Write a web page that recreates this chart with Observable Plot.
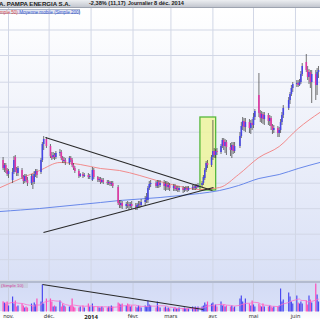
<!DOCTYPE html>
<html><head><meta charset="utf-8">
<script src="https://cdn.jsdelivr.net/npm/d3@7"></script>
<script src="https://cdn.jsdelivr.net/npm/@observablehq/plot@0.6"></script>
<style>
body{margin:0;background:#fff;font-family:"Liberation Sans",Arial,sans-serif;}
#wrap{position:relative;width:320px;height:320px;overflow:hidden;background:#fff;}
.abs{position:absolute;}
#title{left:0;top:0;width:320px;height:8px;background:linear-gradient(#eceef1,#c3c7cf);border-bottom:1px solid #9ea4b0;box-sizing:border-box;}
#title span{position:absolute;top:0;font-weight:bold;font-size:5.6px;line-height:7.5px;color:#1b1b1b;white-space:nowrap;}
#legend{left:-1px;top:8.5px;height:5.5px;width:81px;background:#e3e6f0;border:0.5px solid #aeb6ca;box-sizing:border-box;font-size:4.6px;line-height:5px;white-space:nowrap;}
#vlabel{left:0;top:282.5px;height:5px;width:27px;background:#c9d0e2;font-size:4.4px;line-height:5px;color:#d2409e;white-space:nowrap;padding-left:1px;}
#sep{left:0;top:280px;width:320px;height:2.5px;background:#b3bbcf;border-top:0.5px solid #d6dbe7;box-sizing:border-box;}
</style></head>
<body>
<div id="wrap">
  <div id="main" class="abs" style="left:0;top:8px"></div>
  <div id="vol" class="abs" style="left:0;top:282px"></div>
  <div id="sep" class="abs"></div>
  <div id="title" class="abs">
    <span style="left:-1px;font-size:6.1px">A. PAMPA ENERGIA S.A.</span>
    <span style="left:89px">-2,38% (11,17)</span>
    <span style="left:128px;font-size:5.1px">Journalier</span>
    <span style="left:154px">8 déc. 2014</span>
  </div>
  <div id="legend" class="abs"><span style="color:#e04848">mple 50)</span> <span style="color:#3356d6">Moyenne mobile (Simple 200)</span></div>
  <div id="vlabel" class="abs">(Simple 10)</div>
</div>
<script>
// ---- data (price units, daily trading sessions) ----
const START = "2013-10-28", END = "2014-06-19";
const HOLIDAYS = ["2013-11-28","2013-12-25","2014-01-01","2014-01-20","2014-02-17","2014-04-18","2014-05-26"];

const OPEN = [
 14.0,13.2,13.5,13.0,12.6, 12.0,12.8,14.3,13.0,12.7, 13.0,12.3,11.9,12.4,12.0, 11.7,12.4,11.8,12.6,12.9,
 12.8,14.0,15.6,16.1, 15.4,14.4,14.3,14.5,14.3, 14.7,14.8,14.2,13.9,14.0, 13.7,14.2,14.0,13.5,13.2,
 12.9,12.4,12.6,12.4, 12.5,12.3,12.0,13.0, 12.3,12.0,12.1,11.8,12.0, 11.8,11.7,11.8,11.6,11.7,
 11.3,9.7,9.5,9.7, 9.4,9.6,9.5,9.4,9.6, 9.4,9.3,9.5,9.6,9.5, 9.8,10.0,10.0,11.2,11.6,
 11.7,11.4,11.8,11.5, 11.7,11.4,11.6,11.3,11.5, 11.2,11.4,11.1,11.2,11.0, 11.2,11.0,11.1,11.2,11.0,
 11.2,11.3,11.2,11.4,11.3, 11.5,11.7,12.2,13.0,13.7, 13.5,14.3,14.9,14.5,14.9, 14.8,15.4,16.0,15.4,15.8,
 15.3,15.0,15.5,14.9, 15.4,16.4,17.4,17.9,17.3, 17.8,17.2,17.7,17.5,18.3, 20.5,18.7,18.2,18.6,18.1,
 18.5,17.9,18.2,17.4,17.0, 17.2,16.7,17.0,17.8,18.5, 19.2,20.0,20.6,21.2, 21.6,21.7,21.5,21.8,22.6,
 23.8,23.0,22.3,22.8,21.8, 22.6,21.5,22.8];
const CLOSE = [
 13.2,13.5,13.0,12.6,12.9, 12.8,14.0,13.0,12.7,13.2, 12.3,11.9,12.4,12.0,11.7, 12.4,11.8,12.6,12.9,12.5,
 14.0,15.6,16.1,15.4, 14.4,14.2,14.5,14.3,14.7, 14.8,14.2,13.9,14.0,13.8, 14.2,14.0,13.5,13.2,12.9,
 12.4,12.6,12.4,12.5, 12.3,12.4,13.0,12.3, 12.0,12.1,11.8,12.0,11.8, 11.7,11.8,11.6,11.7,11.4,
 9.7,9.5,9.7,9.4, 9.6,9.5,9.4,9.6,9.4, 9.3,9.5,9.6,9.5,9.8, 10.0,10.3,11.2,11.6,11.7,
 11.4,11.8,11.5,11.7, 11.4,11.6,11.3,11.5,11.2, 11.4,11.1,11.2,11.0,11.2, 11.0,11.1,11.2,11.0,11.2,
 11.3,11.2,11.4,11.3,11.5, 11.7,12.3,13.0,13.7,13.5, 14.3,14.9,14.5,14.9,14.8, 15.4,16.0,15.4,15.8,15.3,
 15.0,15.5,14.9,15.4, 16.4,17.4,17.9,17.3,17.8, 17.2,17.7,17.5,18.3,18.9, 18.7,18.2,18.6,18.1,18.5,
 17.9,18.2,17.4,17.0,17.2, 16.7,17.0,17.8,18.5,19.2, 20.0,20.6,21.2,21.6, 21.7,21.5,21.8,22.6,23.4,
 23.0,22.3,22.8,21.8,22.6, 21.5,22.8,23.0];
const HIGH = [
 14.3,13.7,13.7,13.2,13.1, 13.2,14.4,14.5,13.3,13.4, 13.2,12.5,12.6,12.6,12.3, 12.6,12.6,12.9,13.1,13.1,
 14.2,15.8,16.4,16.3, 15.6,14.8,14.8,14.7,14.9, 15.1,15.0,14.4,14.3,14.2, 14.4,14.4,14.2,13.7,13.4,
 13.1,12.7,12.8,12.7, 12.7,12.6,13.3,13.2, 12.4,12.3,12.3,12.2,12.2, 12.0,12.0,11.9,11.9,11.9,
 11.5,10.0,10.0,9.9, 9.8,9.9,9.8,9.8,9.9, 9.7,9.7,9.9,9.9,10.1, 10.4,10.7,11.4,11.9,12.0,
 11.9,12.0,12.0,12.0, 12.0,11.9,11.9,11.8,11.7, 11.6,11.6,11.4,11.4,11.4, 11.4,11.3,11.4,11.4,11.4,
 11.5,11.5,11.6,11.6,11.7, 11.9,12.5,13.2,13.9,14.0, 14.5,18.0,15.2,15.1,15.2, 15.6,16.2,16.2,16.1,16.0,
 15.7,15.8,15.8,15.8, 16.8,17.8,18.3,18.2,18.2, 18.1,18.0,18.1,18.7,19.1, 22.7,19.0,18.9,18.8,18.8,
 18.7,18.5,18.4,17.6,17.5, 17.4,17.3,18.1,18.8,19.5, 20.3,20.8,21.5,21.8, 22.0,22.0,22.1,22.9,23.7,
 24.6,23.4,23.1,23.0,23.0, 23.0,23.2,23.4];
const LOW = [
 13.0,12.8,12.7,12.4,12.2, 11.7,12.6,12.8,12.4,12.4, 12.1,11.6,11.7,11.8,11.4, 11.5,11.1,11.6,12.3,12.2,
 12.6,13.8,15.0,15.2, 14.2,14.0,14.1,14.0,14.1, 14.4,14.0,13.7,13.7,13.5, 13.5,13.8,13.3,13.0,12.7,
 12.2,12.3,12.2,12.3, 12.1,12.1,11.9,12.1, 11.8,11.8,11.6,11.7,11.6, 11.5,11.5,11.4,11.4,11.2,
 9.5,9.2,9.2,9.1, 9.1,9.2,9.0,9.2,9.1, 9.0,9.0,9.2,9.2,9.3, 9.5,9.7,9.7,11.0,11.3,
 11.2,11.2,11.2,11.3, 11.0,10.9,11.0,11.0,10.9, 10.9,10.9,10.9,10.8,10.8, 10.7,10.8,10.9,10.8,10.9,
 11.0,11.0,11.0,11.1,11.2, 11.3,11.5,12.0,12.8,13.2, 13.3,14.0,14.2,14.2,14.5, 14.6,15.2,15.0,14.7,14.5,
 14.4,14.2,14.6,14.7, 15.2,16.2,17.0,16.9,16.8, 16.7,16.6,17.0,17.2,18.0, 18.3,17.8,17.7,17.6,17.5,
 17.5,17.4,17.0,16.6,16.7, 16.3,16.3,16.7,17.5,18.2, 19.0,19.6,20.4,20.8, 21.3,21.3,21.4,21.6,22.4,
 22.8,22.0,21.6,21.2,19.7, 20.0,20.5,22.2];
const VOLUME = [
 10,9,8,10,6, 15,8,11,5,6, 8,6,4,5,4, 8,5,9,7,13,
 10,27,8,13, 13,10,5,6,5, 11,5,8,6,5, 5,6,13,5,4,
 4,5,6,4, 8,5,8,5, 5,4,4,5,4, 4,5,5,6,5,
 9,8,7,8, 6,8,7,5,6, 5,4,6,5,4, 6,5,11,7,6,
 4,10,5,4, 4,5,3,4,3, 3,4,3,3,4, 3,4,3,3,3,
 5,4,5,4,5, 5,6,9,7,10, 8,9,6,7,5, 10,6,7,5,6,
 5,6,4,5, 13,16,10,8,13, 8,6,11,7,5, 8,6,5,8,5,
 5,6,5,4,5, 5,6,23,10,12, 19,15,10,8, 16,9,8,10,8,
 11,7,16,12,9, 28,17,10];

// moving averages
const MA_DATES = ["2013-10-26","2013-11-10","2013-11-24","2013-12-09","2013-12-24","2014-01-08","2014-01-22","2014-02-06","2014-02-21","2014-03-08","2014-03-22","2014-04-06","2014-04-20","2014-05-05","2014-05-20","2014-06-03","2014-06-19"];
const MA50  = [11.3,12.2,13.0,13.8,13.6,13.2,13.0,12.5,11.9,11.4,11.1,11.3,12.6,14.3,15.4,17.2,18.8];
const MA200 = [8.9,9.05,9.2,9.4,9.6,9.8,10.0,10.15,10.3,10.5,10.7,11.0,11.5,12.2,12.6,13.2,13.8];

// annotations (data units)
const TRI_UPPER_DATES = ["2013-11-28T07:00Z","2014-03-31T16:00Z"], TRI_UPPER = [16.3, 11.0];
const TRI_LOWER_DATES = ["2013-11-26T20:00Z","2014-04-01T10:00Z"], TRI_LOWER = [6.8, 11.3];
const BOX_DATES = ["2014-03-22T19:00Z","2014-04-03T10:00Z"], BOX_PRICES = [11.0, 18.3];
const VOL_TREND_DATES = ["2013-11-26T02:00Z","2014-03-25T00:00Z"], VOL_TREND = [27.5, 2.5];

// grid & axis labels
const GRID_PRICES = [27.05,24.5,21.83,19.33,16.83,14.28,11.73,9.18,6.63,4.08];
const MONTH_TICKS = ["2013-11-01","2013-12-01","2014-01-01","2014-02-01","2014-03-01","2014-04-01","2014-05-01","2014-06-01"];
const MONTH_LABELS = ["nov.","déc.","2014","févr.","mars","avr.","mai","juin"];
const YEAR_LABEL = "2014";

// ---- build tables ----
const dates = d3.utcDays(new Date(START), new Date(END))
  .filter(d => d.getUTCDay() % 6 !== 0 && !HOLIDAYS.includes(d.toISOString().slice(0,10)));
const n = Math.min(dates.length, OPEN.length);
const candles = d3.range(n).map(i => ({date: dates[i], open: OPEN[i], high: HIGH[i], low: LOW[i], close: CLOSE[i], vol: VOLUME[i], up: CLOSE[i] >= OPEN[i]}));
const ma = MA_DATES.map((d,i) => ({date: new Date(d), ma50: MA50[i], ma200: MA200[i]}));
const trends = [
  {x1: new Date(TRI_UPPER_DATES[0]), x2: new Date(TRI_UPPER_DATES[1]), y1: TRI_UPPER[0], y2: TRI_UPPER[1]},
  {x1: new Date(TRI_LOWER_DATES[0]), x2: new Date(TRI_LOWER_DATES[1]), y1: TRI_LOWER[0], y2: TRI_LOWER[1]}
];
const box = [{x1: new Date(BOX_DATES[0]), x2: new Date(BOX_DATES[1]), y1: BOX_PRICES[0], y2: BOX_PRICES[1]}];
const volTrend = [{x1: new Date(VOL_TREND_DATES[0]), x2: new Date(VOL_TREND_DATES[1]), y1: VOL_TREND[0], y2: VOL_TREND[1]}];
const months = MONTH_TICKS.map((d,i) => ({date: new Date(d), label: MONTH_LABELS[i]}));

const BLUE = "#4646e6", PINK = "#e236a6", VPINK = "#ff4db8", VBLUE = "#4a4af0";
const xScale = {type: "utc", domain: [new Date("2013-10-26T02:00:00Z"), new Date("2014-06-19T12:00:00Z")], range: [0, 320], axis: null};
const GRID = "#d2d7e6";

const main = Plot.plot({
  width: 320, height: 272, margin: 0, clip: true,
  x: xScale,
  y: {domain: [2.0, 29.2], axis: null},
  style: {background: "linear-gradient(#ffffff 0%, #eef1fa 45%, #d9e0f6 100%)", overflow: "hidden"},
  marks: [
    Plot.ruleY(GRID_PRICES, {stroke: GRID, strokeWidth: 1}),
    Plot.ruleX(months, {x: "date", stroke: GRID, strokeWidth: 1}),
    Plot.rect(box, {x1: "x1", x2: "x2", y1: "y1", y2: "y2", fill: "#eef49c", fillOpacity: 0.85, stroke: "#56b83c", strokeWidth: 1.3}),
    Plot.line(ma, {x: "date", y: "ma200", stroke: "#5a7de8", strokeWidth: 0.9, curve: "monotone-x"}),
    Plot.line(ma, {x: "date", y: "ma50", stroke: "#f28080", strokeWidth: 0.9, curve: "monotone-x"}),
    Plot.ruleX(candles, {x: "date", y1: "low", y2: "high", stroke: "#3a3a3a", strokeWidth: 0.7}),
    Plot.ruleX(candles, {x: "date", y1: "open", y2: "close", stroke: d => d.up ? BLUE : PINK, strokeWidth: 1.6}),
    Plot.link(trends, {x1: "x1", y1: "y1", x2: "x2", y2: "y2", stroke: "#2a2a2a", strokeWidth: 1.1})
  ]
});
document.getElementById("main").append(main);

const vol = Plot.plot({
  width: 320, height: 38, marginTop: 0, marginBottom: 8.5, marginLeft: 0, marginRight: 0,
  x: xScale,
  y: {domain: [0, 29.5], axis: null},
  style: {background: "linear-gradient(to bottom, #d3dbf5 0px, #dae1f8 29.5px, #f5f6fa 29.5px, #ffffff 38px)", overflow: "hidden"},
  marks: [
    Plot.ruleX(months, {x: "date", stroke: "#c8cee0", strokeWidth: 1}),
    Plot.ruleX(candles, {x: "date", y1: 0, y2: "vol", stroke: d => d.up ? VBLUE : VPINK, strokeWidth: 1.2}),
    Plot.lineY(candles, Plot.windowY({k: 10, anchor: "end", strict: false}, {x: "date", y: "vol", stroke: "#ff6ccc", strokeWidth: 0.8})),
    Plot.link(volTrend, {x1: "x1", y1: "y1", x2: "x2", y2: "y2", stroke: "#2a2a2a", strokeWidth: 1.1}),
    Plot.text(months.filter(d => d.label !== YEAR_LABEL), {x: "date", text: "label", frameAnchor: "bottom", dy: 4.6, fontSize: 5.5, fill: "#333", lineAnchor: "middle"}),
    Plot.text(months.filter(d => d.label === YEAR_LABEL), {x: "date", text: "label", frameAnchor: "bottom", dy: 4.6, fontSize: 6, fontWeight: "bold", fill: "#222", lineAnchor: "middle"})
  ]
});
document.getElementById("vol").append(vol);
</script>
</body></html>
